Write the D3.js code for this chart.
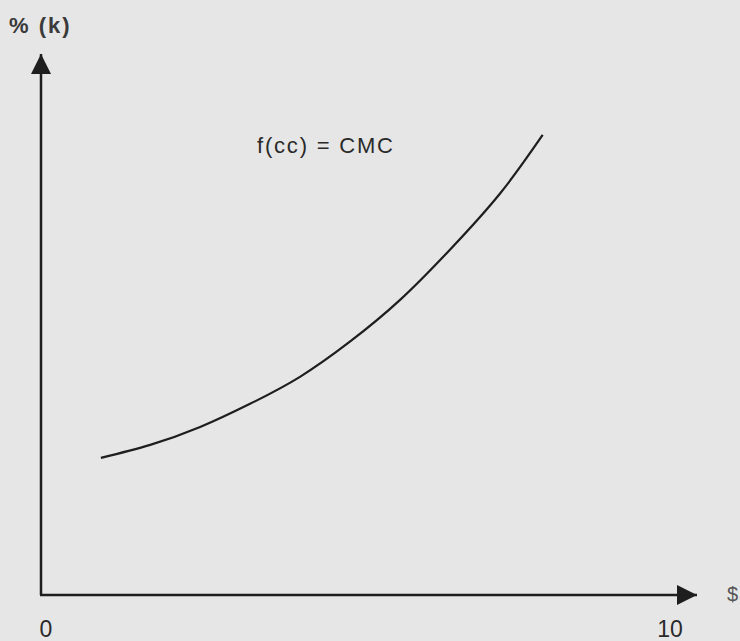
<!DOCTYPE html>
<html>
<head>
<meta charset="utf-8">
<script src="https://cdn.jsdelivr.net/npm/d3@7"></script>
<style>
  html, body { margin: 0; padding: 0; background: #e6e6e6; overflow: hidden; }
  text { font-family: "Liberation Sans", Arial, sans-serif; fill: #2a2a2a; }
</style>
</head>
<body>
<div id="canvas"></div>
<script>
// curve ($ on x, % (k) on y)
var cmcX = [0.96, 1.75, 2.55, 3.35, 4.15, 4.95, 5.75, 6.55, 7.36, 8.04];
var cmcY = [2.54, 2.78, 3.11, 3.54, 4.04, 4.69, 5.46, 6.39, 7.44, 8.52];
var xTicks = [0, 10];
var curveLabel = "f(cc) = CMC";
var yLabel = "% (k)";
var xLabel = "$";

var width = 740, height = 641;

var svg = d3.select("#canvas").append("svg")
  .attr("width", width)
  .attr("height", height);

// scales
var x = d3.scaleLinear().domain([0, 10]).range([41, 665]);
var y = d3.scaleLinear().domain([0, 10]).range([595, 55]);

// arrow heads
var defs = svg.append("defs");
defs.append("marker")
  .attr("id", "arrow")
  .attr("viewBox", "0 0 10 10")
  .attr("refX", 10).attr("refY", 5)
  .attr("markerUnits", "userSpaceOnUse")
  .attr("markerWidth", 26).attr("markerHeight", 20)
  .attr("orient", "auto")
  .append("path")
  .attr("d", "M0,0 L10,5 L0,10 Z")
  .attr("fill", "#1e1e1e");

// axes
svg.append("path")
  .attr("d", "M" + x(0) + "," + y(0) + " L" + x(0) + "," + (y(10) - 1))
  .attr("stroke", "#1e1e1e").attr("stroke-width", 2.5).attr("fill", "none")
  .attr("marker-end", "url(#arrow)");

svg.append("path")
  .attr("d", "M" + (x(0) - 1) + "," + y(0) + " L697," + y(0))
  .attr("stroke", "#1e1e1e").attr("stroke-width", 2.5).attr("fill", "none")
  .attr("marker-end", "url(#arrow)");

// tick labels
svg.selectAll(".tick-label")
  .data(xTicks)
  .enter().append("text")
  .attr("class", "tick-label")
  .attr("x", function(d) { return x(d) + 5; })
  .attr("y", 637)
  .attr("text-anchor", "middle")
  .style("font-size", "23px")
  .text(function(d) { return d; });

// axis labels
svg.append("text")
  .attr("x", 9).attr("y", 33)
  .style("font-size", "22px")
  .style("font-weight", "bold")
  .style("letter-spacing", "2px")
  .style("fill", "#3a3a3a")
  .text(yLabel);

svg.append("text")
  .attr("x", 727).attr("y", 601)
  .style("font-size", "20px")
  .style("fill", "#555")
  .text(xLabel);

// the curve
var line = d3.line()
  .x(function(d) { return x(d[0]); })
  .y(function(d) { return y(d[1]); })
  .curve(d3.curveNatural);

svg.append("path")
  .datum(d3.zip(cmcX, cmcY))
  .attr("d", line)
  .attr("fill", "none")
  .attr("stroke", "#1e1e1e")
  .attr("stroke-width", 2.2);

svg.append("text")
  .attr("x", 257).attr("y", 153)
  .style("font-size", "22px")
  .style("letter-spacing", "1.8px")
  .text(curveLabel);
</script>
</body>
</html>
